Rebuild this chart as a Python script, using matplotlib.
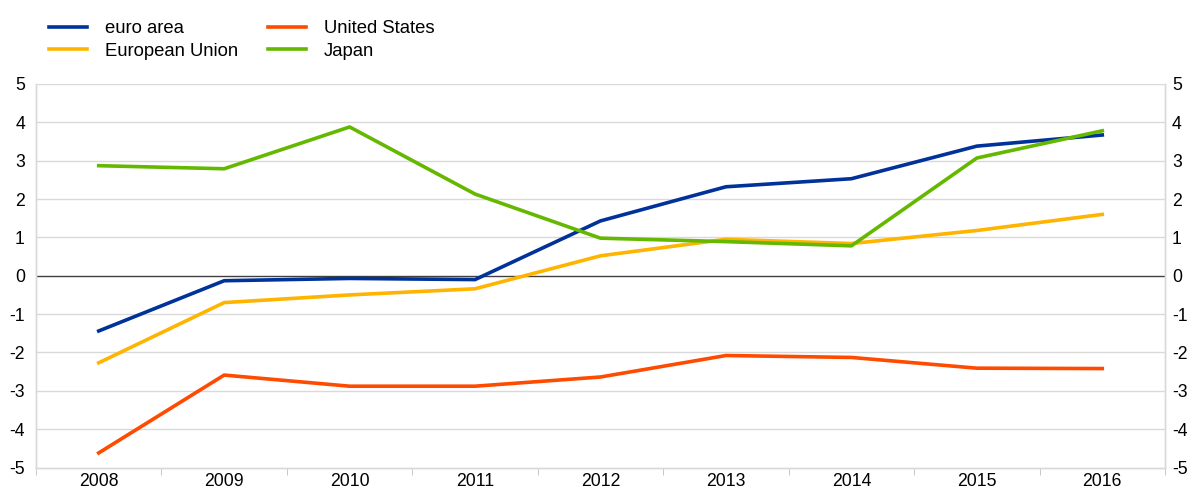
import matplotlib
matplotlib.use("Agg")
import matplotlib.pyplot as plt
import numpy as np

plt.rcParams['font.family'] = ['Liberation Sans', 'DejaVu Sans']
plt.rcParams['axes.unicode_minus'] = False

years = ["2008", "2009", "2010", "2011", "2012", "2013", "2014", "2015", "2016"]
euro_area = [-1.44, -0.13, -0.07, -0.10, 1.43, 2.32, 2.53, 3.38, 3.67]
european_union = [-2.27, -0.70, -0.50, -0.34, 0.52, 0.95, 0.84, 1.18, 1.60]
united_states = [-4.62, -2.59, -2.88, -2.88, -2.64, -2.08, -2.13, -2.41, -2.42]
japan = [2.87, 2.79, 3.88, 2.13, 0.98, 0.89, 0.78, 3.07, 3.78]

fig = plt.figure(figsize=(11.92, 4.88), dpi=100)
ax = fig.add_axes([36/1192, 1-467.5/488, (1165-36)/1192, (467.5-84)/488])

x = np.arange(len(years))
lw = 2.6
l1, = ax.plot(x, euro_area, color='#003299', lw=lw, label='euro area', zorder=3)
l2, = ax.plot(x, european_union, color='#FFB400', lw=lw, label='European Union', zorder=3)
l3, = ax.plot(x, united_states, color='#FF4B00', lw=lw, label='United States', zorder=3)
l4, = ax.plot(x, japan, color='#65B800', lw=lw, label='Japan', zorder=3)

ax.set_xlim(-0.5, len(years) - 0.5)
ax.set_ylim(-5, 5)
ax.set_yticks(range(-5, 6))
for v in range(-5, 6):
    if v == 0:
        ax.axhline(0, color='#404040', lw=1.0, zorder=2)
    elif v != -5:
        ax.axhline(v, color='#d9d9d9', lw=1.0, zorder=1)

ax.set_xticks(x)
ax.set_xticklabels(years)
ax.set_xticks(np.arange(-0.5, len(years), 1.0), minor=True)
ax.tick_params(axis='x', which='major', length=0, labelsize=12.7, pad=4)
ax.tick_params(axis='x', which='minor', length=5, color='#bfbfbf', direction='out')
ax.tick_params(axis='y', which='both', length=0, labelsize=12.7, pad=8)

ax2 = ax.twinx()
ax2.set_ylim(-5, 5)
ax2.set_yticks(range(-5, 6))
ax2.tick_params(axis='y', which='both', length=0, labelsize=12.7, pad=5)
for a in (ax, ax2):
    for s in ['left', 'right', 'bottom']:
        a.spines[s].set_color('#d9d9d9')
        a.spines[s].set_linewidth(1.0)
    a.spines['top'].set_visible(False)

fig.legend(handles=[l1, l2, l3, l4], labels=['euro area', 'European Union', 'United States', 'Japan'],
           ncol=2, loc='upper left', bbox_to_anchor=(49/1192, 1-20/488), frameon=False,
           fontsize=13.3, handlelength=2.05, handletextpad=0.97, columnspacing=1.65,
           labelspacing=0.32, borderaxespad=0, borderpad=0)

fig.savefig('out.png', dpi=100)
